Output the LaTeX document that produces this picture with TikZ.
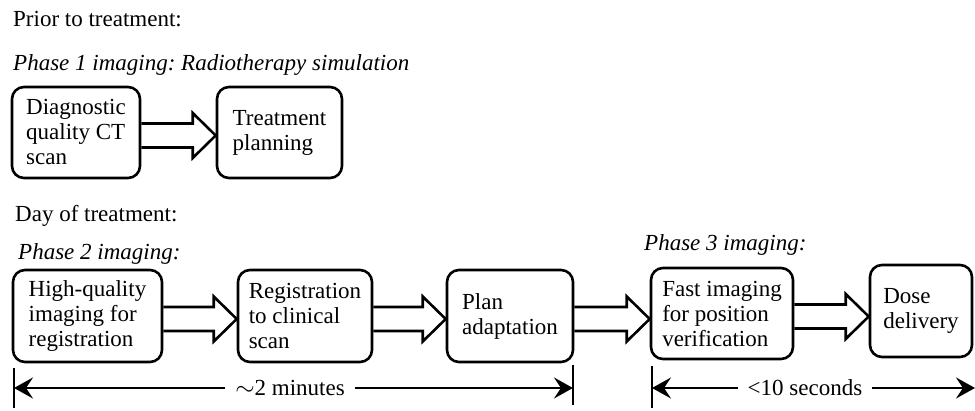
\documentclass[tikz,border=0pt]{standalone}
\usepackage{fontspec}
\setmainfont{Liberation Serif}
\usetikzlibrary{calc,arrows.meta}
\newcommand\blkarrow[2]{%
  \draw[barrowstyle]
    ($(#1.east)+(0,3-12)$) --
    ($(#2.west|-#1.east)+(-23,3-12)$) --
    ($(#2.west|-#1.east)+(-23,3-22.5)$) --
    ($(#2.west|-#1.east)+(0,3)$) --
    ($(#2.west|-#1.east)+(-23,3+22.5)$) --
    ($(#2.west|-#1.east)+(-23,3+12)$) --
    ($(#1.east)+(0,3+12)$);}
\begin{document}
\frenchspacing
\begin{tikzpicture}[x=1pt,y=-1pt,
  every node/.style={font=\fontsize{23}{25}\selectfont},
  box/.style={draw,line width=2.6pt,rounded corners=12pt,align=left,inner sep=0pt},
  barrowstyle/.style={draw,line width=2.6pt,line join=miter},
  lbl/.style={anchor=base west,inner sep=0pt},
  dimline/.style={line width=2.4pt,-{Stealth[length=19pt,width=21pt,inset=7pt]}},
  bar/.style={line width=2.8pt}]
\useasboundingbox (0,0) rectangle (975,411);
\node[lbl] (t1) at (13,27) {Prior to treatment:};
\node[lbl] (t2) at (13,71) {\itshape Phase 1 imaging: Radiotherapy simulation};
\node[lbl] (t3) at (15,222) {Day of treatment:};
\node[lbl] (t4) at (18,260) {\itshape Phase 2 imaging:};
\node[lbl] (t5) at (644,251) {\itshape Phase 3 imaging:};

\node[box,minimum width=128pt,minimum height=91pt] (a1) at (76,132.5) {Diagnostic\\quality CT\\scan};
\node[box,minimum width=125pt,minimum height=91pt] (a2) at (279.5,132.5) {Treatment\\planning};
\blkarrow{a1}{a2}

\node[box,minimum width=149pt,minimum height=92pt] (b1) at (87.5,316) {High-quality\\imaging for\\registration};
\node[box,minimum width=134pt,minimum height=92pt] (b2) at (305,316) {Registration\\to clinical\\scan};
\node[box,minimum width=126pt,minimum height=92pt] (b3) at (510,316) {Plan\\adaptation};
\node[box,minimum width=142pt,minimum height=91pt] (b4) at (722,313.5) {Fast imaging\\for position\\verification};
\node[box,minimum width=102pt,minimum height=92pt] (b5) at (921,311) {Dose\\delivery};
\blkarrow{b1}{b2}
\blkarrow{b2}{b3}
\blkarrow{b3}{b4}
\blkarrow{b4}{b5}

% dimension 1
\coordinate (l1) at (14,388);
\coordinate (r1) at (573,388);
\draw[bar] (14,368) -- (14,408);
\draw[bar] (573,365) -- (573,405);
\node[inner sep=0pt] (d1) at (290,388) {$\sim$2 minutes};
\draw[dimline] ($(d1.west)+(-10,0)$) -- (l1);
\draw[dimline] ($(d1.east)+(10,0)$) -- (r1);
% dimension 2
\coordinate (l2) at (652,388);
\coordinate (r2) at (975,388);
\draw[bar] (652,366) -- (652,408);
\node[inner sep=0pt] (d2) at (805,388) {<10 seconds};
\draw[dimline] ($(d2.west)+(-10,0)$) -- (l2);
\draw[dimline] ($(d2.east)+(10,0)$) -- (r2);
\end{tikzpicture}
\end{document}
